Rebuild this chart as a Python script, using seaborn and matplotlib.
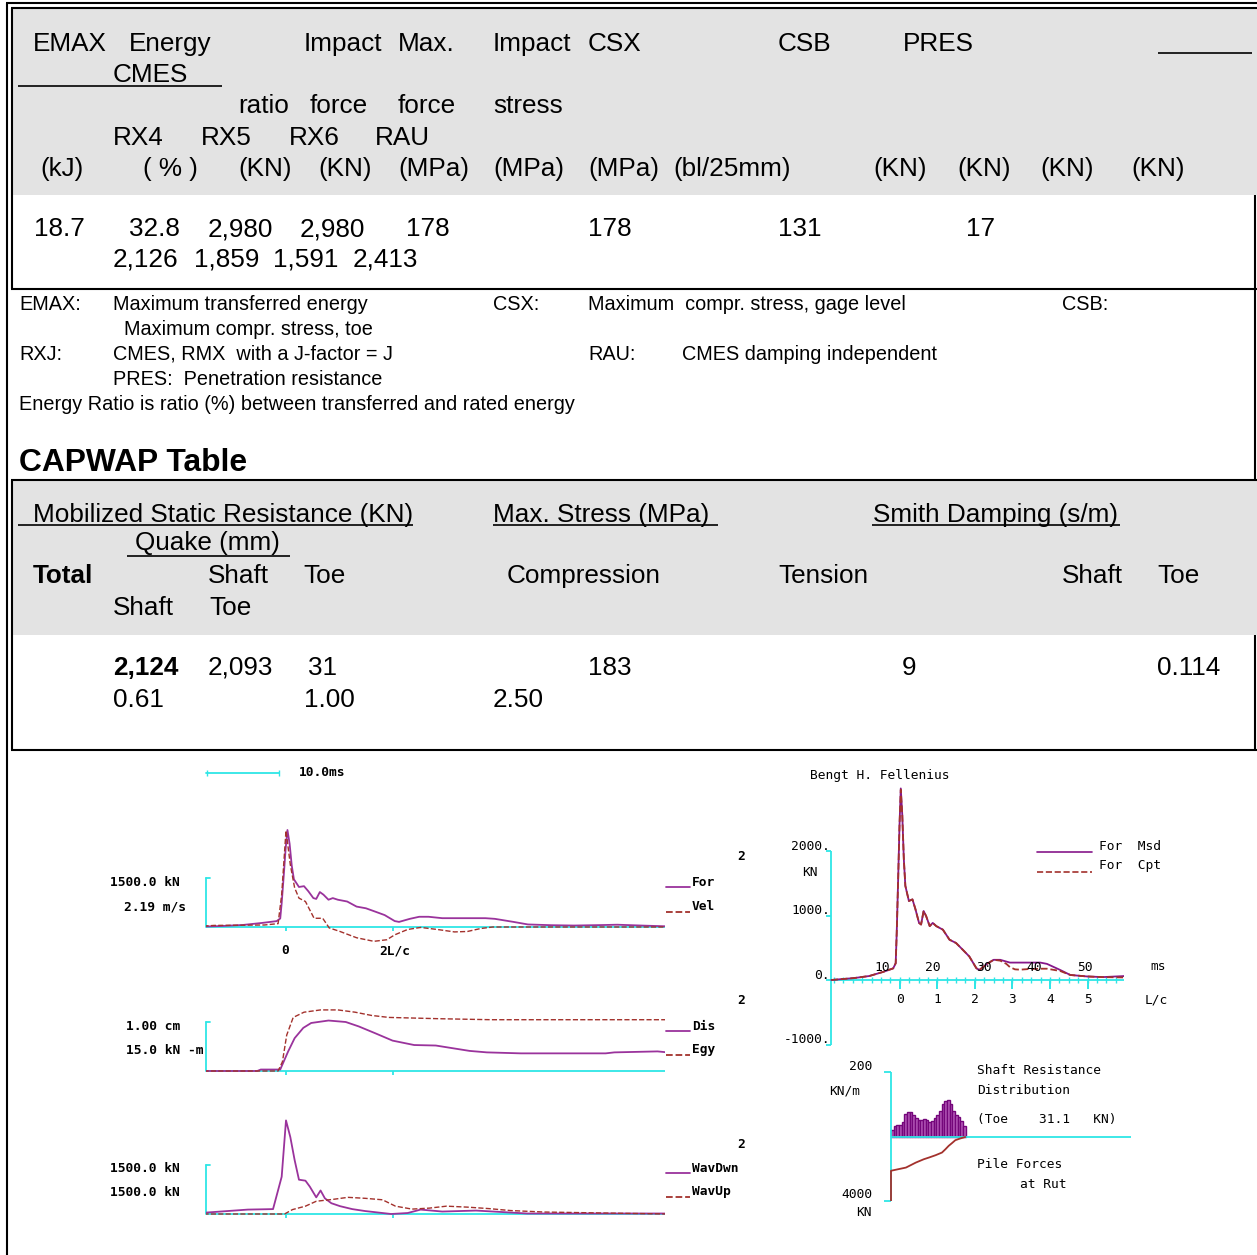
import numpy as np
import matplotlib
matplotlib.use("Agg")
import matplotlib.pyplot as plt
from matplotlib.patches import Rectangle
import seaborn as sns

sns.set_style("white")
plt.rcParams["font.family"] = ["Liberation Sans", "DejaVu Sans"]
plt.rcParams["text.color"] = "black"

W, H = 1257, 1255
GRAY = "#e3e3e3"
CYAN = "#2ee6e6"
PURPLE = "#9a339c"
DPURPLE = "#86178a"
BROWN = "#a3312c"
BAR_FILL = "#b55ab9"
BAR_EDGE = "#74067a"
MONO = "DejaVu Sans Mono"
TS = 18.8  # table text size
LS = 14.3  # abbreviation text size

# ---------------- result table ----------------
head_row1 = ["EMAX", "Energy", "Impact", "Max.", "Impact", "CSX", "CSB", "PRES"]
head_row2 = ["CMES"]
head_row3 = ["ratio", "force", "force", "stress"]
head_row4 = ["RX4", "RX5", "RX6", "RAU"]
head_units = ["(kJ)", "( % )", "(KN)", "(KN)", "(MPa)", "(MPa)", "(MPa)",
              "(bl/25mm)", "(KN)", "(KN)", "(KN)", "(KN)"]
result_main = ["18.7", "32.8", "2,980", "2,980", "178", "178", "131", "17"]
result_rx = ["2,126", "1,859", "1,591", "2,413"]

# ---------------- abbreviations ----------------
abbr_terms = ["EMAX:", "CSX:", "CSB:", "RXJ:", "RAU:"]
abbr_texts = ["Maximum transferred energy", "Maximum  compr. stress, gage level",
              "Maximum compr. stress, toe", "CMES, RMX  with a J-factor = J",
              "CMES damping independent", "PRES:  Penetration resistance"]
note_text = "Energy Ratio is ratio (%) between transferred and rated energy"

# ---------------- CAPWAP table ----------------
capwap_title = "CAPWAP Table"
capwap_groups = ["Mobilized Static Resistance (KN)", "Max. Stress (MPa)", "Smith Damping (s/m)"]
capwap_quake = "Quake (mm)"
capwap_cols1 = ["Total", "Shaft", "Toe", "Compression", "Tension", "Shaft", "Toe"]
capwap_cols2 = ["Shaft", "Toe"]
capwap_vals1 = ["2,124", "2,093", "31", "183", "9", "0.114"]
capwap_vals2 = ["0.61", "1.00", "2.50"]

# ---------------- signals (time in ms relative to impact) ----------------
force_t = [-13.5, -9.0, -6.0, -3.3, -1.3, -0.8, -0.6, -0.3, -0.05, 0.2, 0.5, 0.8, 1.1,
           1.8, 2.5, 3.1, 3.8, 4.2, 4.7, 5.2, 5.9, 6.5, 7.2, 8.5, 9.8, 11.1, 12.4, 13.7,
           15.1, 15.7, 17.2, 18.5, 19.8, 21.7, 23.7, 27.7, 29.0, 31.6, 33.6, 36.9, 40.0,
           44.0, 46.0, 50.0, 53.0]
force_msd = [0, 30, 62, 125, 180, 260, 730, 1615, 2400, 2970, 2550, 1875, 1460,
             1225, 1250, 1095, 885, 860, 1070, 990, 835, 885, 835, 780, 625, 573, 470, 365,
             182, 156, 250, 313, 313, 270, 270, 270, 250, 156, 78, 55, 45,
             60, 70, 40, 20]
cpt_t = [-13.5, -9.0, -6.0, -3.3, -1.3, -0.8, -0.6, -0.3, -0.05, 0.2, 0.5, 0.8, 1.1,
         1.8, 2.5, 3.1, 3.8, 4.2, 4.7, 5.2, 5.9, 6.5, 7.2, 8.5, 9.8, 11.1, 12.4, 13.7,
         15.1, 15.7, 17.2, 18.5, 19.8, 21.0, 21.7, 22.7, 23.7, 25.4, 27.7, 29.0, 31.6,
         33.6, 36.9, 40.0, 44.0]
force_cpt = [0, 30, 62, 125, 180, 260, 730, 1615, 2400, 2950, 2550, 1875, 1460,
             1225, 1250, 1095, 885, 860, 1070, 990, 835, 885, 835, 780, 625, 573, 470, 365,
             182, 156, 250, 313, 300, 250, 200, 165, 160, 170, 175, 175, 140,
             78, 55, 45, 40]
vel_t = [-13.5, -10.0, -3.0, -1.1, -0.6, 0.0, 0.6, 1.2, 1.8, 2.7, 3.9, 5.1, 6.0, 7.5,
         9.8, 12.2, 14.0, 15.1, 16.9, 18.7, 21.0, 23.4, 25.2, 27.0, 28.7, 53.0]
vel = [0.0, 0.07, 0.09, 0.15, 1.45, 4.31, 2.78, 1.75, 1.29, 1.14, 0.39, 0.39, -0.04, -0.2,
       -0.48, -0.64, -0.57, -0.35, -0.11, -0.02, -0.11, -0.22, -0.2, -0.07, 0.0, 0.0]
dis_t = [-13.5, -4.0, -3.5, -0.8, 0.3, 1.2, 2.4, 3.5, 5.9, 8.3, 10.1, 12.4, 14.8, 17.8,
         20.8, 25.5, 27.9, 32.6, 44.4, 45.6, 51.6, 53.0]
dis = [0, 0, 0.03, 0.03, 0.4, 0.67, 0.88, 0.98, 1.03, 1.0, 0.91, 0.77, 0.62, 0.53,
       0.52, 0.41, 0.38, 0.36, 0.36, 0.38, 0.4, 0.38]
egy_t = [-13.5, -1.1, -0.5, 0.1, 1.0, 2.5, 4.8, 7.2, 9.6, 11.9, 14.3, 21.4, 28.5, 53.0]
egy = [0, 0, 2.8, 11.0, 16.4, 18.0, 18.7, 18.7, 18.0, 17.0, 16.4, 16.0, 15.7, 15.7]
wd_t = [-13.5, -11.0, -5.3, -1.8, -0.6, 0.0, 0.6, 1.2, 1.8, 2.7, 3.3, 4.2, 4.8, 5.4,
        6.3, 7.5, 9.2, 11.0, 13.4, 14.6, 16.9, 18.7, 21.7, 26.4, 30.0, 33.5, 53.0]
wav_dwn = [15, 45, 135, 150, 1140, 2865, 2355, 1650, 1050, 1020, 840, 510, 720, 480,
           330, 240, 150, 90, 30, 0, 30, 135, 75, 105, 60, 15, 15]
wu_t = [-13.5, -0.2, 0.9, 2.7, 4.2, 6.6, 8.6, 11.0, 13.4, 15.2, 17.5, 19.9, 22.3, 25.2,
        28.2, 31.2, 35.9, 44.2, 53.0]
wav_up = [0, 0, 135, 240, 390, 450, 510, 480, 435, 240, 150, 180, 240, 210,
          165, 105, 60, 30, 0]

# shaft resistance per segment (kN/m) and pile forces (kN) at segment positions
shaft_res = [20, 33, 35, 35, 45, 69, 76, 76, 68, 56, 51, 52, 54, 52, 45, 48, 56, 66,
             80, 100, 110, 113, 100, 80, 66, 59, 48, 33]
pile_x = [0, 5.6, 9.3, 12.3, 14.2, 16.7, 19.1, 20.4, 21.6, 22.8, 24.1, 25.9, 27.8]
pile_force = [2124, 1927, 1617, 1409, 1306, 1160, 995, 788, 580, 415, 228, 124, 31]
toe_res = 31.1

FORCE_SCALE = 1500.0
VEL_SCALE = 2.19
DIS_SCALE = 1.00
EGY_SCALE = 15.0
LC_MS = 7.4
IMPACT_MS = 13.5

fig = plt.figure(figsize=(W / 100, H / 100), dpi=100)
page = fig.add_axes([0, 0, 1, 1])
page.set_xlim(0, W)
page.set_ylim(H, 0)
page.set_axis_off()


def hline(y, x0, x1, lw=1.5, color="k"):
    page.plot([x0, x1], [y, y], color=color, lw=lw, solid_capstyle="butt")


def vline(x, y0, y1, lw=1.5, color="k"):
    page.plot([x, x], [y0, y1], color=color, lw=lw, solid_capstyle="butt")


def put(xs, y, labels, size=TS, **kw):
    for x, s in zip(xs, labels):
        page.text(x, y, s, fontsize=size, va="baseline", ha="left", **kw)


def mono(x, y, s, size=9.3, **kw):
    page.text(x, y, s, fontsize=size, family=MONO, va="center", **kw)


# ---- frames ----
page.add_patch(Rectangle((12, 8), W - 12, 187, color=GRAY, lw=0))
page.add_patch(Rectangle((12, 481), W - 12, 154, color=GRAY, lw=0))
hline(3, 6, W)
hline(8, 11, W)
vline(7, 3, H)
vline(11.5, 8, 289)
hline(289, 11, W)
vline(1255, 195, 481)
hline(480, 11, W)
vline(11.5, 480, 750)
vline(1255, 635, 750)
hline(750, 11, W)

# ---- result table ----
put([33, 129, 304, 398, 493, 588, 778, 903], 51, head_row1)
put([113], 82, head_row2)
hline(86, 18, 222, lw=1.2)
hline(53, 1158, 1252, lw=1.2)
put([238, 310, 398, 493], 113, head_row3)
put([113, 201, 289, 375], 145, head_row4)
put([40, 143, 238, 318, 398, 493, 588, 673, 873, 957, 1040, 1131], 176, head_units)
put([34, 129, 208, 300, 406, 588, 778, 966], 236, result_main)
put([113, 194, 273, 353], 266, result_rx)

# ---- abbreviations ----
put([19, 493, 1062], 310, abbr_terms[:3], size=LS)
put([113, 588], 310, [abbr_texts[0], abbr_texts[1]], size=LS)
put([124], 335, [abbr_texts[2]], size=LS)
put([19, 588], 360, abbr_terms[3:], size=LS)
put([113, 682], 360, [abbr_texts[3], abbr_texts[4]], size=LS)
put([113], 385, [abbr_texts[5]], size=LS)
put([19], 410, [note_text], size=LS)

# ---- CAPWAP table ----
page.text(19, 471, capwap_title, fontsize=22.9, fontweight="bold", va="baseline")
put([33, 493, 873], 522, capwap_groups)
hline(525, 18, 413, lw=1.2)
hline(525, 493, 718, lw=1.2)
hline(525, 872, 1120, lw=1.2)
put([135], 550, [capwap_quake])
hline(556, 127, 290, lw=1.2)
put([33], 583, capwap_cols1[:1], fontweight="bold")
put([208, 303, 507, 778, 1062, 1157], 583, capwap_cols1[1:])
put([113, 209], 615, capwap_cols2)
put([113], 675, capwap_vals1[:1], fontweight="bold")
put([208, 308, 588, 902, 1157], 675, capwap_vals1[1:])
put([113, 304, 493], 707, capwap_vals2)


# ---------------- plots ----------------
def px_axes(x0, x1, y0, y1, xlim, ylim):
    ax = fig.add_axes([x0 / W, 1 - y1 / H, (x1 - x0) / W, (y1 - y0) / H])
    ax.set_xlim(xlim)
    ax.set_ylim(ylim)
    ax.set_axis_off()
    return ax


def sline(ax, x, y, color, dashed=False, lw=1.3):
    sns.lineplot(x=x, y=y, ax=ax, color=color, linewidth=lw,
                 linestyle="--" if dashed else "-", sort=False,
                 estimator=None, legend=False)


PX_MS = 7.2
BAR_PX = 49.0


def signal_axes(base_y):
    xl = ((206 - 286) / PX_MS, (665 - 286) / PX_MS)
    yl = (-30 / BAR_PX, 125 / BAR_PX)
    ax = px_axes(206, 665, base_y - 125, base_y + 30, xl, yl)
    ax.axhline(0, color=CYAN, lw=1.3)
    ax.plot([xl[0], xl[0]], [0, 1], color=CYAN, lw=1.3, clip_on=False)
    ax.plot([xl[0], xl[0] + 0.5], [1, 1], color=CYAN, lw=1.3, clip_on=False)
    ax.vlines([0, 2 * LC_MS], -4 / BAR_PX, 0, color=CYAN, lw=1.3)
    return ax


def key(y, label, color, dashed):
    page.plot([666, 690], [y + 5, y + 5], color=color, lw=1.3,
              linestyle="--" if dashed else "-")
    mono(692, y, label, fontweight="bold")


# plot 1: force / velocity
ax1 = signal_axes(927)
sline(ax1, force_t, np.array(force_msd) / FORCE_SCALE, PURPLE)
sline(ax1, vel_t, np.array(vel) / VEL_SCALE, BROWN, dashed=True, lw=1.0)
page.plot([206, 279], [773, 773], color=CYAN, lw=1.3)
vline(206.5, 770, 776, lw=1.0, color=CYAN)
vline(278.5, 770, 776, lw=1.0, color=CYAN)
mono(299, 773, "10.0ms", fontweight="bold")
mono(285, 951, "0", ha="center", fontweight="bold")
mono(395, 951, "2L/c", ha="center", fontweight="bold")
mono(737, 857, "2", fontweight="bold")
mono(180, 882, f"{FORCE_SCALE:.1f} kN", ha="right", fontweight="bold")
mono(186, 907, f"{VEL_SCALE:.2f} m/s", ha="right", fontweight="bold")
key(882, "For", PURPLE, False)
key(907, "Vel", BROWN, True)

# plot 2: displacement / energy
ax2 = signal_axes(1071)
sline(ax2, dis_t, np.array(dis) / DIS_SCALE, PURPLE)
sline(ax2, egy_t, np.array(egy) / EGY_SCALE, BROWN, dashed=True, lw=1.0)
mono(737, 1001, "2", fontweight="bold")
mono(180, 1026, f"{DIS_SCALE:.2f} cm", ha="right", fontweight="bold")
mono(204, 1050, f"{EGY_SCALE:.1f} kN -m", ha="right", fontweight="bold")
key(1026, "Dis", PURPLE, False)
key(1050, "Egy", BROWN, True)

# plot 3: wave down / wave up
ax3 = signal_axes(1214)
sline(ax3, wd_t, np.array(wav_dwn) / FORCE_SCALE, PURPLE)
sline(ax3, wu_t, np.array(wav_up) / FORCE_SCALE, BROWN, dashed=True, lw=1.0)
mono(737, 1144, "2", fontweight="bold")
mono(180, 1168, f"{FORCE_SCALE:.1f} kN", ha="right", fontweight="bold")
mono(180, 1192, f"{FORCE_SCALE:.1f} kN", ha="right", fontweight="bold")
key(1168, "WavDwn", PURPLE, False)
key(1192, "WavUp", BROWN, True)

# right: measured vs computed force
PX_MS_R = 5.075
PX_KN = 0.0645
T_END = 57.7
x0_ms = 831.25
axf = px_axes(820, x0_ms + T_END * PX_MS_R, 780, 1050,
              ((820 - x0_ms) / PX_MS_R, T_END), (-70 / PX_KN, 200 / PX_KN))
axf.vlines(0, -1000, 2000, color=CYAN, lw=1.3)
axf.hlines([-1000, 0, 1000, 2000], -1.0, 0, color=CYAN, lw=1.3)
axf.hlines(0, 0, T_END, color=CYAN, lw=1.3)
for q in range(-7, 24):
    xq = IMPACT_MS + q * LC_MS / 4
    if 0 < xq <= T_END:
        axf.vlines(xq, -3 / PX_KN, 3 / PX_KN, color=CYAN, lw=1.0)
for k in range(6):
    axf.vlines(IMPACT_MS + k * LC_MS, -9 / PX_KN, 0, color=CYAN, lw=1.4)
    axf.text(IMPACT_MS + k * LC_MS, -310, str(k), ha="center", va="center",
             family=MONO, fontsize=9.3)
for ms in [10, 20, 30, 40, 50]:
    axf.text(ms, 200, str(ms), ha="center", va="center", family=MONO, fontsize=9.3)
for v in [2000, 1000, 0, -1000]:
    axf.text(-0.25, v + 77, f"{v}.", ha="right", va="center", family=MONO, fontsize=9.3)
sline(axf, np.array(force_t) + IMPACT_MS, force_msd, DPURPLE, lw=1.3)
sline(axf, np.array(cpt_t) + IMPACT_MS, force_cpt, BROWN, dashed=True, lw=1.3)
mono(810, 872, "KN", ha="center")
mono(1150, 967, "ms")
mono(1145, 1000, "L/c")
mono(810, 776, "Bengt H. Fellenius")
page.plot([1037, 1092], [852, 852], color=DPURPLE, lw=1.2)
page.plot([1037, 1092], [872, 872], color=BROWN, lw=1.2, linestyle="--")
mono(1099, 846, "For  Msd")
mono(1099, 866, "For  Cpt")

# right bottom: shaft resistance distribution & pile forces
PX_SEG = 2.67
PX_KNM = 0.3225
KNM_PER_KN = 200 / 4000
axs = px_axes(880, 1140, 1060, 1210,
              ((880 - 891) / PX_SEG, (1140 - 891) / PX_SEG),
              (-(1210 - 1136.5) / PX_KNM, (1136.5 - 1060) / PX_KNM))
seg_x = np.arange(len(shaft_res)) + 0.5
sns.barplot(x=seg_x, y=shaft_res, ax=axs, native_scale=True, width=1.0,
            color=BAR_FILL, edgecolor=BAR_EDGE, linewidth=1.0, saturation=1,
            errorbar=None)
axs.set_xlim((880 - 891) / PX_SEG, (1140 - 891) / PX_SEG)
axs.set_ylim(-(1210 - 1136.5) / PX_KNM, (1136.5 - 1060) / PX_KNM)
axs.set_axis_off()
axs.hlines(0, 0, (1131 - 891) / PX_SEG, color=CYAN, lw=1.3)
axs.vlines(0, -4000 * KNM_PER_KN, 200, color=CYAN, lw=1.3)
axs.hlines([200, -4000 * KNM_PER_KN], -2.5, 0, color=CYAN, lw=1.3)
axs.vlines(0, -4000 * KNM_PER_KN, -pile_force[0] * KNM_PER_KN, color=BROWN, lw=1.3)
sline(axs, pile_x, -np.array(pile_force) * KNM_PER_KN, BROWN, lw=1.3)
mono(872, 1067, "200", ha="right")
mono(845, 1091, "KN/m", ha="center")
mono(872, 1195, "4000", ha="right")
mono(864, 1212, "KN", ha="center")
mono(977, 1071, "Shaft Resistance")
mono(977, 1091, "Distribution")
mono(977, 1120, f"(Toe    {toe_res}   KN)")
mono(977, 1164, "Pile Forces")
mono(1020, 1184, "at Rut")

fig.savefig("out.png", dpi=100)
